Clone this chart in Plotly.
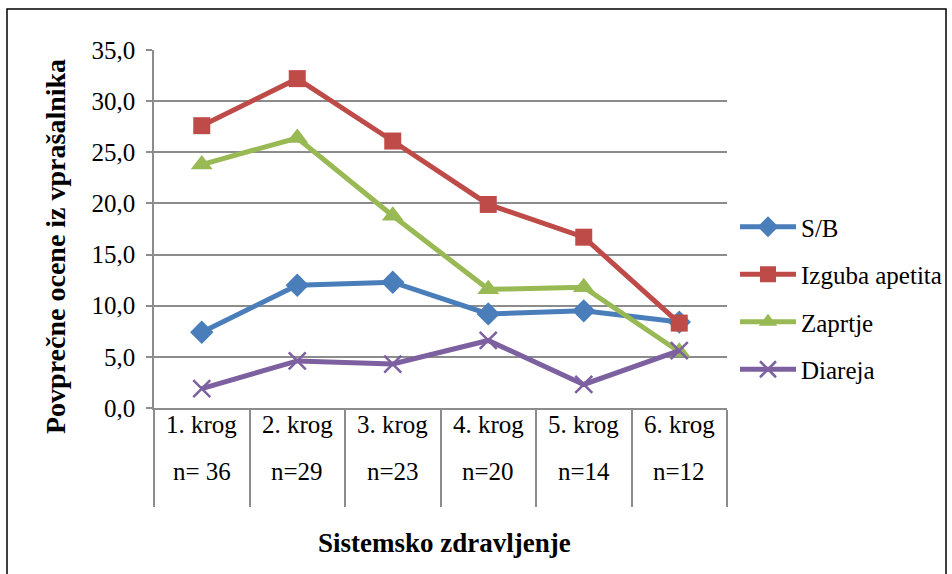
import plotly.graph_objects as go

# Chart data
rounds = ["1. krog", "2. krog", "3. krog", "4. krog", "5. krog", "6. krog"]
sample_sizes = ["n= 36", "n=29", "n=23", "n=20", "n=14", "n=12"]
sb = [7.4, 12.0, 12.3, 9.2, 9.5, 8.4]
izguba_apetita = [27.6, 32.2, 26.1, 19.9, 16.7, 8.3]
zaprtje = [23.8, 26.4, 18.8, 11.6, 11.8, 5.5]
diareja = [1.9, 4.6, 4.3, 6.6, 2.3, 5.6]
y_ticks = [0, 5, 10, 15, 20, 25, 30, 35]

W, H = 952, 574
L, R, T, B = 154, 225, 50, 166
PW, PH = W - L - R, H - T - B
FONT = "Liberation Serif"


def px_x(px):
    return (px - L) / PW


def px_y(py):
    return (H - B - py) / PH


xs = list(range(1, len(rounds) + 1))

series = [
    ("S/B", sb, "#4A7EBB", "diamond", 18, None),
    ("Izguba apetita", izguba_apetita, "#BE4B48", "square", 17, None),
    ("Zaprtje", zaprtje, "#98B954", "triangle-up", 19, None),
    ("Diareja", diareja, "#7D60A0", "x-thin", 17, 2.5),
]

fig = go.Figure()
for i, (name, vals, color, sym, size, lw) in enumerate(series):
    marker = dict(symbol=sym, size=size, color=color)
    if lw:
        marker["line"] = dict(color=color, width=lw)
    else:
        marker["line"] = dict(width=0)
    fig.add_trace(go.Scatter(
        x=xs, y=vals, name=name, mode="lines+markers",
        line=dict(color=color, width=5),
        marker=marker, legendgroup=f"g{i}",
    ))

# Category labels in two rows beneath the axis
for x, r, n in zip(xs, rounds, sample_sizes):
    fig.add_annotation(x=x, xref="x", y=px_y(440), yref="paper", text=r,
                       showarrow=False, font=dict(family=FONT, size=25, color="black"))
    fig.add_annotation(x=x, xref="x", y=px_y(487), yref="paper", text=n,
                       showarrow=False, font=dict(family=FONT, size=25, color="black"))

# Axis titles
fig.add_annotation(x=px_x(444), xref="paper", y=px_y(543), yref="paper",
                   xanchor="center", yanchor="middle",
                   text="<b>Sistemsko zdravljenje</b>", showarrow=False,
                   font=dict(family=FONT, size=27, color="black"))
fig.add_annotation(x=px_x(55), xref="paper", y=px_y(247), yref="paper",
                   xanchor="center", yanchor="middle",
                   text="<b>Povprečne ocene iz vprašalnika</b>", showarrow=False,
                   textangle=-90, font=dict(family=FONT, size=28, color="black"))

# Outer chart frame
fig.add_shape(type="rect", xref="paper", yref="paper",
              x0=px_x(7), x1=px_x(946), y0=px_y(590), y1=px_y(9),
              line=dict(color="black", width=1.5), layer="below")

fig.update_layout(
    width=W, height=H,
    margin=dict(l=L, r=R, t=T, b=B, pad=0, autoexpand=False),
    paper_bgcolor="white", plot_bgcolor="white",
    separators=", ",
    font=dict(family=FONT, size=25, color="black"),
    showlegend=True,
    legend=dict(x=px_x(735), y=px_y(298), xanchor="left", yanchor="middle",
                font=dict(family=FONT, size=25, color="black"),
                traceorder="grouped", tracegroupgap=12, itemwidth=56,
                bgcolor="rgba(0,0,0,0)"),
    xaxis=dict(
        range=[0.5, len(rounds) + 0.5],
        tickvals=[x - 0.5 for x in xs] + [len(rounds) + 0.5],
        showticklabels=False, ticks="outside", ticklen=97,
        tickcolor="#8C8C8C", tickwidth=1.5,
        showgrid=False, zeroline=False,
        showline=True, linecolor="#8C8C8C", linewidth=1.5,
    ),
    yaxis=dict(
        range=[0, 35], tickvals=y_ticks, tickformat=".1f",
        ticks="outside", ticklen=6, tickcolor="#8C8C8C", tickwidth=1.5,
        showgrid=True, gridcolor="#8C8C8C", gridwidth=1.5,
        zeroline=False, showline=True, linecolor="#8C8C8C", linewidth=1.5,
        tickfont=dict(family=FONT, size=25, color="black"),
        ticklabelstandoff=6,
    ),
)

fig.write_html("out.html")
